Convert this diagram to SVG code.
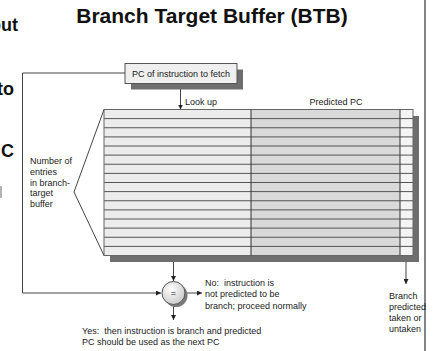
<svg xmlns="http://www.w3.org/2000/svg" width="434" height="351" viewBox="0 0 434 351">
<defs>
<style>
text{font-family:"Liberation Sans",Arial,sans-serif;fill:#222}
.t9{font-size:9px}
.pre{white-space:pre}
.big{font-size:18px;font-weight:bold;fill:#111}
.title{font-size:21px;font-weight:bold;fill:#111}
.ln{stroke:#444;stroke-width:1;fill:none}
.row{stroke:#555;stroke-width:1}
.sh{fill:#6e6e6e}
</style>
<marker id="ah" viewBox="0 0 6 6" refX="6" refY="3" markerWidth="5" markerHeight="5" orient="auto">
<path d="M0,0 L6,3 L0,6 z" fill="#222"/>
</marker>
<radialGradient id="cg" cx="0.4" cy="0.35" r="0.7">
<stop offset="0" stop-color="#ffffff"/>
<stop offset="1" stop-color="#c8c8c8"/>
</radialGradient>
</defs>
<rect width="434" height="351" fill="#ffffff"/>

<g id="side-text">
<text class="big" x="18" y="31" text-anchor="end">out</text>
<text class="big" x="14" y="95" text-anchor="end">to</text>
<text class="big" x="14" y="157" text-anchor="end">C</text>
<line x1="1" y1="186" x2="1" y2="198" stroke="#999" stroke-width="1.5"/>
</g>

<line id="frame" x1="425" y1="0" x2="425" y2="351" stroke="#333" stroke-width="1.2"/>

<g id="title">
<text class="title" x="212" y="23" text-anchor="middle">Branch Target Buffer (BTB)</text>
</g>

<g id="connectors">
<path class="ln" d="M125,73 H22.5 V293 H161" marker-end="url(#ah)"/>
<path class="ln" d="M180.5,83 V109.5" marker-end="url(#ah)"/>
<path class="ln" d="M173.5,262 V281" marker-end="url(#ah)"/>
<path class="ln" d="M185,293 H202" marker-end="url(#ah)"/>
<path class="ln" d="M173.5,304.5 V320" marker-end="url(#ah)"/>
<path class="ln" d="M406,262 V284" marker-end="url(#ah)"/>
</g>

<g id="pc-box">
<rect class="sh" x="131" y="69.5" width="112" height="20"/>
<rect x="125" y="63.5" width="112" height="20" fill="#efefef" stroke="#555" stroke-width="1"/>
<text class="t9" x="181" y="77" text-anchor="middle">PC of instruction to fetch</text>
</g>

<g id="btb">
<text class="t9" x="185" y="105">Look up</text>
<text class="t9" x="336" y="105" text-anchor="middle">Predicted PC</text>
<rect class="sh" x="110" y="116" width="309" height="146"/>
<rect x="104" y="109.5" width="147" height="146" fill="#ececec"/>
<rect x="251" y="109.5" width="149" height="146" fill="#d9d9d9"/>
<rect x="400" y="109.5" width="13" height="146" fill="#f4f4f4"/>
<g class="row">
<line x1="104" y1="109.5" x2="413" y2="109.5"/>
<line x1="104" y1="118.6" x2="413" y2="118.6"/>
<line x1="104" y1="127.75" x2="413" y2="127.75"/>
<line x1="104" y1="136.9" x2="413" y2="136.9"/>
<line x1="104" y1="146" x2="413" y2="146"/>
<line x1="104" y1="155.1" x2="413" y2="155.1"/>
<line x1="104" y1="164.25" x2="413" y2="164.25"/>
<line x1="104" y1="173.4" x2="413" y2="173.4"/>
<line x1="104" y1="182.5" x2="413" y2="182.5"/>
<line x1="104" y1="191.6" x2="413" y2="191.6"/>
<line x1="104" y1="200.75" x2="413" y2="200.75"/>
<line x1="104" y1="209.9" x2="413" y2="209.9"/>
<line x1="104" y1="219" x2="413" y2="219"/>
<line x1="104" y1="228.1" x2="413" y2="228.1"/>
<line x1="104" y1="237.25" x2="413" y2="237.25"/>
<line x1="104" y1="246.4" x2="413" y2="246.4"/>
<line x1="104" y1="255.5" x2="413" y2="255.5"/>
</g>
<rect x="104" y="109.5" width="309" height="146" fill="none" stroke="#666" stroke-width="1"/>
<line x1="251" y1="109.5" x2="251" y2="255.5" stroke="#333"/>
<line x1="400" y1="109.5" x2="400" y2="255.5" stroke="#333"/>
</g>

<g id="entries-label">
<path d="M104,109.5 L74,192 L104,255.5" fill="none" stroke="#444" stroke-width="1"/>
<text class="t9" x="30" y="164">Number of</text>
<text class="t9" x="30" y="175">entries</text>
<text class="t9" x="30" y="185.5">in branch-</text>
<text class="t9" x="30" y="196">target</text>
<text class="t9" x="30" y="207">buffer</text>
</g>

<g id="compare">
<circle cx="176" cy="295.5" r="11.5" fill="#7a7a7a"/>
<circle cx="173.5" cy="293" r="11.5" fill="url(#cg)" stroke="#555" stroke-width="1"/>
<text class="t9" x="173.5" y="296" text-anchor="middle">=</text>
</g>

<g id="no-label">
<text class="t9 pre" x="205" y="286" xml:space="preserve">No:  instruction is</text>
<text class="t9" x="205" y="297">not predicted to be</text>
<text class="t9" x="205" y="308.5">branch; proceed normally</text>
</g>

<g id="yes-label">
<text class="t9 pre" x="82" y="334" xml:space="preserve">Yes:  then instruction is branch and predicted</text>
<text class="t9" x="82" y="345">PC should be used as the next PC</text>
</g>

<g id="branch-label">
<text class="t9" x="389" y="298.5">Branch</text>
<text class="t9" x="389" y="309.5">predicted</text>
<text class="t9" x="389" y="320.5">taken or</text>
<text class="t9" x="389" y="332">untaken</text>
</g>
</svg>
